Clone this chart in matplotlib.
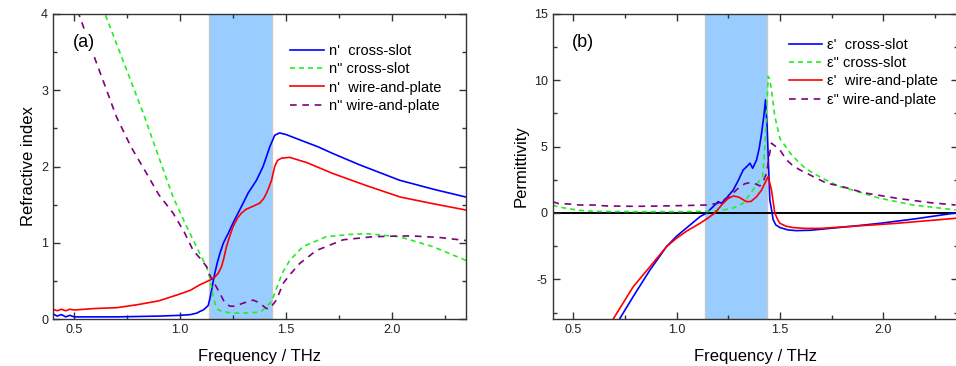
import numpy as np
import matplotlib.pyplot as plt

plt.rcParams['font.family'] = ['Liberation Sans', 'DejaVu Sans']
plt.rcParams['axes.unicode_minus'] = False

# --- panel (a): refractive index ---
f_n1_cs = [0.40, 0.42, 0.44, 0.46, 0.48, 0.50, 0.55, 0.70, 0.90, 1.00, 1.05, 1.08, 1.093, 1.11,
           1.122, 1.133, 1.141, 1.149, 1.157, 1.164, 1.175, 1.188, 1.205, 1.227, 1.25, 1.274,
           1.298, 1.321, 1.361, 1.392, 1.424, 1.447, 1.47, 1.50, 1.565, 1.65, 1.722, 1.85,
           2.037, 2.20, 2.35]
n1_cs = [0.07, 0.04, 0.06, 0.03, 0.05, 0.03, 0.03, 0.03, 0.04, 0.05, 0.06, 0.08, 0.10, 0.12,
         0.15, 0.18, 0.27, 0.38, 0.50, 0.60, 0.73, 0.86, 1.00, 1.12, 1.26, 1.39,
         1.52, 1.65, 1.82, 2.00, 2.26, 2.41, 2.44, 2.42, 2.35, 2.26, 2.17, 2.02,
         1.82, 1.70, 1.60]

f_n2_cs = [0.40, 0.55, 0.65, 0.75, 0.826, 0.90, 0.967, 1.03, 1.093, 1.125, 1.14, 1.156, 1.172,
           1.19, 1.22, 1.25, 1.30, 1.37, 1.392, 1.432, 1.45, 1.47, 1.486, 1.518, 1.58, 1.69,
           1.80, 1.88, 2.037, 2.194, 2.35]
n2_cs = [5.7, 4.55, 3.97, 3.25, 2.70, 2.12, 1.60, 1.22, 0.86, 0.69, 0.55, 0.30, 0.14,
         0.11, 0.09, 0.08, 0.08, 0.09, 0.12, 0.23, 0.36, 0.51, 0.62, 0.77, 0.95, 1.08,
         1.11, 1.12, 1.08, 0.95, 0.77]

f_n1_wp = [0.40, 0.42, 0.44, 0.46, 0.48, 0.50, 0.60, 0.70, 0.80, 0.90, 1.00, 1.05, 1.093, 1.14,
           1.164, 1.18, 1.196, 1.207, 1.219, 1.235, 1.25, 1.27, 1.29, 1.312, 1.337, 1.376,
           1.395, 1.408, 1.42, 1.432, 1.447, 1.46, 1.479, 1.518, 1.60, 1.72, 1.88, 2.04,
           2.20, 2.35]
n1_wp = [0.13, 0.11, 0.13, 0.11, 0.13, 0.12, 0.14, 0.15, 0.19, 0.24, 0.33, 0.38, 0.45, 0.51,
         0.55, 0.60, 0.69, 0.80, 0.95, 1.09, 1.21, 1.32, 1.39, 1.44, 1.47, 1.52,
         1.58, 1.65, 1.73, 1.82, 2.00, 2.08, 2.11, 2.12, 2.05, 1.91, 1.75, 1.60,
         1.51, 1.43]

f_n2_wp = [0.40, 0.527, 0.60, 0.70, 0.77, 0.842, 0.90, 0.967, 1.02, 1.062, 1.10, 1.125, 1.14,
           1.172, 1.188, 1.21, 1.235, 1.26, 1.298, 1.345, 1.37, 1.408, 1.424, 1.455, 1.487, 1.518,
           1.565, 1.644, 1.77, 1.91, 2.04, 2.10, 2.226, 2.35]
n2_wp = [5.0, 3.96, 3.40, 2.65, 2.25, 1.91, 1.63, 1.39, 1.14, 0.90, 0.78, 0.69, 0.58,
         0.42, 0.34, 0.22, 0.17, 0.17, 0.21, 0.25, 0.22, 0.14, 0.14, 0.25, 0.47, 0.58,
         0.73, 0.90, 1.04, 1.08, 1.09, 1.09, 1.07, 1.03]

# --- panel (b): permittivity ---
f_e1_cs = [0.70, 0.726, 0.79, 0.871, 0.951, 1.00, 1.05, 1.113, 1.145, 1.175, 1.201, 1.217, 1.24,
           1.274, 1.30, 1.322, 1.339, 1.355, 1.368, 1.387, 1.40, 1.411, 1.422, 1.43, 1.438,
           1.445, 1.451, 1.46, 1.467, 1.48, 1.50, 1.54, 1.58, 1.65, 1.742, 1.85, 1.983, 2.15, 2.35]
e1_cs = [-9.0, -7.94, -6.3, -4.3, -2.54, -1.75, -1.1, -0.28, 0.0, 0.45, 0.85, 0.73, 1.1,
         1.73, 2.5, 3.24, 3.49, 3.75, 3.37, 4.0, 4.9, 6.0, 7.3, 8.52, 6.5,
         3.5, 0.98, 0.2, -0.5, -0.9, -1.1, -1.28, -1.33, -1.30, -1.16, -1.0, -0.78, -0.45, 0.0]

f_e2_cs = [0.40, 0.43, 0.468, 0.53, 0.60, 0.80, 1.00, 1.15, 1.21, 1.25, 1.274, 1.30, 1.322, 1.345,
           1.363, 1.39, 1.416, 1.425, 1.432, 1.443, 1.45, 1.459, 1.475, 1.50, 1.516, 1.55, 1.58,
           1.62, 1.661, 1.72, 1.79, 1.85, 1.983, 2.145, 2.35]
e2_cs = [0.6, 0.45, 0.35, 0.2, 0.12, 0.1, 0.1, 0.12, 0.17, 0.3, 0.38, 0.55, 0.73, 1.2,
         1.6, 2.2, 2.74, 4.5, 6.5, 10.3, 10.1, 9.3, 7.3, 5.6, 5.26, 4.5, 4.0,
         3.4, 3.0, 2.5, 1.98, 1.73, 1.11, 0.6, 0.23]

f_e1_wp = [0.67, 0.693, 0.79, 0.871, 0.951, 1.00, 1.05, 1.113, 1.15, 1.185, 1.225, 1.25, 1.274,
           1.30, 1.339, 1.36, 1.387, 1.41, 1.427, 1.443, 1.459, 1.475, 1.49, 1.50, 1.53, 1.564,
           1.62, 1.70, 1.822, 1.95, 2.064, 2.20, 2.35]
e1_wp = [-9.0, -8.0, -5.56, -4.05, -2.54, -1.9, -1.35, -0.78, -0.4, 0.0, 0.73, 1.1, 1.28,
         1.2, 0.85, 0.87, 1.23, 1.7, 2.24, 2.74, 1.73, 0.0, -0.53, -0.78, -1.0, -1.1,
         -1.16, -1.16, -1.03, -0.9, -0.78, -0.6, -0.4]

f_e2_wp = [0.40, 0.43, 0.475, 0.53, 0.60, 0.66, 0.80, 0.90, 1.00, 1.10, 1.145, 1.18, 1.201, 1.25,
           1.28, 1.306, 1.33, 1.355, 1.38, 1.403, 1.42, 1.435, 1.447, 1.459, 1.48, 1.50, 1.532,
           1.56, 1.597, 1.629, 1.661, 1.726, 1.79, 1.903, 2.064, 2.225, 2.35]
e2_wp = [0.85, 0.7, 0.68, 0.6, 0.6, 0.53, 0.5, 0.52, 0.55, 0.58, 0.6, 0.68, 0.73, 1.2,
         1.6, 1.98, 2.2, 2.29, 2.2, 2.04, 2.4, 3.0, 4.2, 5.26, 5.0, 4.75, 4.0,
         3.6, 3.24, 3.0, 2.74, 2.24, 2.04, 1.53, 1.11, 0.78, 0.6]

band = (1.137, 1.436)

fig = plt.figure(figsize=(9.56, 3.66), dpi=100)
ax1 = fig.add_axes([0.0554, 0.128, 0.432, 0.834])
ax2 = fig.add_axes([0.578, 0.128, 0.4238, 0.834])

dash_g = (3.0, 2.4)
dash_p = (4.0, 3.4)
blue, green, red, purple = '#0000ff', '#22ee22', '#ff0000', '#800080'
legend_kw = dict(loc='upper left', frameon=False, fontsize=10.5, handlelength=2.3,
                 handletextpad=0.35, labelspacing=0.3, borderpad=0, borderaxespad=0)

for ax in (ax1, ax2):
    ax.axvspan(band[0], band[1], facecolor='#99ccff', edgecolor='#c8c8c8', lw=1.0, zorder=0)

ax1.plot(f_n1_cs, n1_cs, color=blue, lw=1.2, label="n'  cross-slot")
ax1.plot(f_n2_cs, n2_cs, color=green, lw=1.2, dashes=dash_g, label='n" cross-slot')
ax1.plot(f_n1_wp, n1_wp, color=red, lw=1.2, label="n'  wire-and-plate")
ax1.plot(f_n2_wp, n2_wp, color=purple, lw=1.2, dashes=dash_p, label='n" wire-and-plate')
ax1.set_xlim(0.4, 2.35)
ax1.set_ylim(0, 4)
ax1.set_yticks([0, 1, 2, 3, 4])
ax1.set_ylabel('Refractive index', fontsize=12)
ax1.text(0.048, 0.905, '(a)', transform=ax1.transAxes, fontsize=13, va='center', zorder=5,
         bbox=dict(facecolor='white', edgecolor='none', pad=1))
ax1.legend(bbox_to_anchor=(0.575, 0.902), **legend_kw)

ax2.axhline(0, color='black', lw=1.4, zorder=1)
ax2.plot(f_e1_cs, e1_cs, color=blue, lw=1.2, label="\u03b5'  cross-slot")
ax2.plot(f_e2_cs, e2_cs, color=green, lw=1.2, dashes=dash_g, label='\u03b5" cross-slot')
ax2.plot(f_e1_wp, e1_wp, color=red, lw=1.2, label="\u03b5'  wire-and-plate")
ax2.plot(f_e2_wp, e2_wp, color=purple, lw=1.2, dashes=dash_p, label='\u03b5" wire-and-plate')
ax2.set_xlim(0.4, 2.36)
ax2.set_ylim(-8, 15)
ax2.set_yticks([-5, 0, 5, 10, 15])
ax2.set_ylabel('Permittivity', fontsize=12)
ax2.text(0.048, 0.905, '(b)', transform=ax2.transAxes, fontsize=13, va='center')
ax2.legend(bbox_to_anchor=(0.583, 0.922), **legend_kw)

for ax, minor_y in ((ax1, 0.5), (ax2, 2.5)):
    ax.set_xticks([0.5, 1.0, 1.5, 2.0])
    ax.set_xticklabels(['0.5', '1.0', '1.5', '2.0'])
    ax.xaxis.set_minor_locator(plt.MultipleLocator(0.25))
    ax.yaxis.set_minor_locator(plt.MultipleLocator(minor_y))
    ax.tick_params(which='both', direction='in', top=True, right=True, colors='#333333',
                   labelsize=9, labelcolor='#222222')
    ax.tick_params(which='major', length=5, width=1)
    ax.tick_params(which='minor', length=3, width=1)
    for s in ax.spines.values():
        s.set_color('#333333')
        s.set_linewidth(1.0)
    ax.set_xlabel('Frequency / THz', fontsize=12, labelpad=9)

fig.savefig('out.png', dpi=100)
